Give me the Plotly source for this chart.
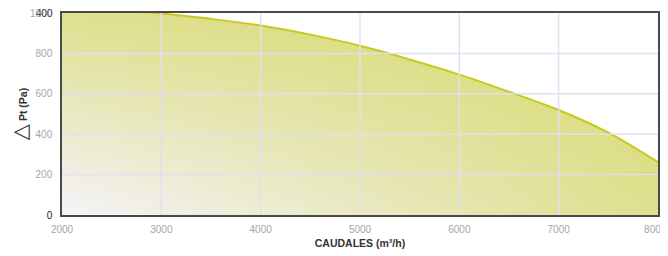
import plotly.graph_objects as go

# Data
flow = [2000, 2500, 3000, 3500, 4000, 4500, 5000, 5500, 6000, 6500, 7000, 7500, 8000]
pressure = [1040, 1022, 998, 971, 938, 893, 838, 770, 695, 610, 520, 408, 262]

x_ticks = [2000, 3000, 4000, 5000, 6000, 7000, 8000]
x_ticktext = ["2000", "3000", "4000", "5000", "6000", "7000",
              "8000<span style='color:rgba(255,255,255,0)'>0</span>"]
y_ticks = [0, 200, 400, 600, 800, 1000]
y_ticktext = ["<span style='color:#222'>0</span>", "200", "400", "600", "800", "1000"]

FONT = "Liberation Sans, Arial, Helvetica, sans-serif"
YEL = "212,214,92"

fig = go.Figure()
# base light lavender fill
fig.add_trace(go.Scatter(x=flow, y=pressure, mode="lines", line=dict(width=0, shape="spline"),
                         fill="tozeroy", fillcolor="rgba(245,243,250,1)", hoverinfo="skip",
                         showlegend=False))
# horizontal gradient
fig.add_trace(go.Scatter(x=flow, y=pressure, mode="lines", line=dict(width=0, shape="spline"),
                         fill="tozeroy",
                         fillgradient=dict(type="horizontal", start=2000, stop=8000,
                                           colorscale=[[0, f"rgba({YEL},0)"], [1, f"rgba({YEL},0.68)"]]),
                         hoverinfo="skip", showlegend=False))
# vertical gradient + curve line
fig.add_trace(go.Scatter(x=flow, y=pressure, mode="lines",
                         line=dict(width=2, color="#c9c91c", shape="spline"),
                         fill="tozeroy",
                         fillgradient=dict(type="vertical", start=0, stop=1000,
                                           colorscale=[[0, f"rgba({YEL},0)"], [1, f"rgba({YEL},0.68)"]]),
                         showlegend=False))

shapes = []
for xv in x_ticks[1:-1]:
    shapes.append(dict(type="line", xref="x", yref="paper", x0=xv, x1=xv, y0=0, y1=1,
                       line=dict(color="rgba(226,222,240,0.95)", width=1.5), layer="above"))
for yv in y_ticks[1:-1]:
    shapes.append(dict(type="line", xref="paper", yref="y", x0=0, x1=1, y0=yv, y1=yv,
                       line=dict(color="rgba(226,222,240,0.95)", width=1.5), layer="above"))

fig.update_layout(
    width=668, height=248,
    margin=dict(l=54, r=18, t=5, b=41, autoexpand=False),
    paper_bgcolor="white", plot_bgcolor="white",
    font=dict(family=FONT, size=10, color="#a6a6a6"),
    shapes=shapes,
    xaxis=dict(range=[2000, 8000], tickvals=x_ticks, ticktext=x_ticktext, automargin=False,
               showgrid=False, zeroline=False, showline=True, linecolor="#4a4a4a",
               linewidth=1.5, mirror=True, ticks="", ticklabelstandoff=4,
               ticklabeloverflow="allow",
               title=dict(text="<b>CAUDALES (m³/h)</b>", font=dict(size=10.5, color="#333"),
                          standoff=6)),
    yaxis=dict(range=[0, 1000], tickvals=y_ticks, ticktext=y_ticktext, automargin=False,
               showgrid=False, zeroline=False, showline=True, linecolor="#4a4a4a",
               linewidth=1.5, mirror=True, ticks="", ticklabelstandoff=6,
               ticklabeloverflow="allow",
               title=dict(text="<span style='font-size:21px;font-weight:normal;font-family:DejaVu Sans'>△</span> <b>Pt (Pa)</b>",
                          font=dict(size=10.5, color="#333"), standoff=6)),
    annotations=[dict(text="400", xref="paper", yref="y", x=0, y=1000, xanchor="right",
                      yanchor="middle", xshift=-7, showarrow=False,
                      font=dict(size=10, color="#444", family=FONT))],
)

fig.write_html("out.html")
